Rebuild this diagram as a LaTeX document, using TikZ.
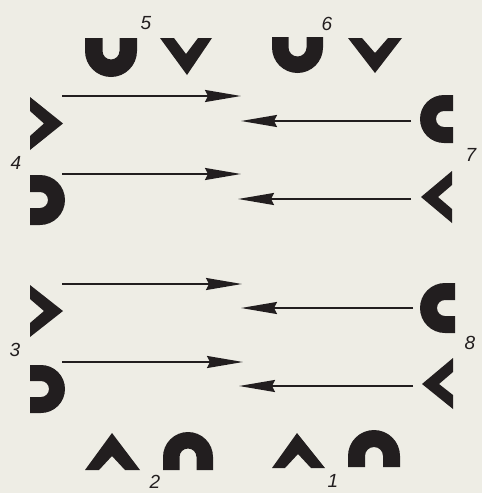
\documentclass[tikz,border=0pt]{standalone}
\usepackage{fontspec}
\setmainfont{Liberation Sans}
\usetikzlibrary{arrows.meta}
\definecolor{paper}{RGB}{238,237,229}
\definecolor{ink}{RGB}{34,30,31}
\tikzset{
  pics/halfring/.style args={#1/#2/#3}{code={
    \fill[ink] (-#1,-#3) -- (-#1,0) arc[start angle=180,end angle=0,radius=#1]
      -- (#1,-#3) -- (#2,-#3) -- (#2,0) arc[start angle=0,end angle=180,radius=#2]
      -- (-#2,-#3) -- cycle;}},
  chev/.style={fill=ink},
  arr/.style={draw=ink,line width=1.9pt,-{Stealth[length=36pt,width=12pt,inset=3pt]}},
  lab/.style={text=ink,font=\itshape\fontsize{19}{19}\selectfont,inner sep=0pt}
}
\begin{document}
\begin{tikzpicture}[x=1pt,y=1pt,yscale=-1]
\fill[paper] (0,0) rectangle (482,493);
\useasboundingbox (0,0) rectangle (482,493);
% top row
\pic[rotate=180] at (111,51) {halfring=26/8.5/13};
\fill[chev] (160,38) -- (174,38) -- (186,54) -- (198,38) -- (212,38) -- (187,75) -- cycle;
\pic[rotate=180] at (297.5,47.5) {halfring=25.5/9/10.5};
\fill[chev] (348,38) -- (362,38) -- (375,53) -- (388,38) -- (402,38) -- (375,73) -- cycle;
% left column
\fill[chev] (30,97) -- (63,123.5) -- (30,150) -- (30,136) -- (44,123.5) -- (30,111) -- cycle;
\pic[rotate=-90] at (40,200) {halfring=25/8/10};
\fill[chev] (30,285) -- (63,311) -- (30,337) -- (30,323) -- (44,311) -- (30,299) -- cycle;
\pic[rotate=-90] at (41,389) {halfring=24/8/11};
% right column
\pic[rotate=90] at (444,119) {halfring=24/8/9};
\fill[chev] (452,171) -- (421,197) -- (452,223) -- (452,209) -- (438,197) -- (452,185) -- cycle;
\pic[rotate=90] at (445,308) {halfring=25/8/10};
\fill[chev] (453,358) -- (422,384) -- (453,409) -- (453,395) -- (439,384) -- (453,372) -- cycle;
% bottom row
\fill[chev] (85,470) -- (112,433) -- (140,470) -- (125,470) -- (112,456) -- (99,470) -- cycle;
\pic at (188,457) {halfring=25/8.5/13};
\fill[chev] (272,468) -- (297,433) -- (325,468) -- (311,468) -- (298,454) -- (285,468) -- cycle;
\pic at (374,456) {halfring=26/9/11};
% arrow ends
\coordinate (a1s) at (62,96);   \coordinate (a1e) at (241,96);
\coordinate (a2s) at (411,121); \coordinate (a2e) at (241,121);
\coordinate (a3s) at (62,174);  \coordinate (a3e) at (241,174);
\coordinate (a4s) at (411,199); \coordinate (a4e) at (238,199);
\coordinate (a5s) at (62,284);  \coordinate (a5e) at (242,284);
\coordinate (a6s) at (413,308); \coordinate (a6e) at (241,308);
\coordinate (a7s) at (62,362);  \coordinate (a7e) at (243,362);
\coordinate (a8s) at (413,386); \coordinate (a8e) at (239,386);
\draw[arr] (a1s) -- (a1e);
\draw[arr] (a2s) -- (a2e);
\draw[arr] (a3s) -- (a3e);
\draw[arr] (a4s) -- (a4e);
\draw[arr] (a5s) -- (a5e);
\draw[arr] (a6s) -- (a6e);
\draw[arr] (a7s) -- (a7e);
\draw[arr] (a8s) -- (a8e);
% labels
\node[lab] (l5) at (146,23) {5};
\node[lab] (l6) at (327,24) {6};
\node[lab] (l4) at (16,163) {4};
\node[lab] (l3) at (15,350) {3};
\node[lab] (l7) at (471,155) {7};
\node[lab] (l8) at (470,343) {8};
\node[lab] (l2) at (155,482) {2};
\node[lab] (l1) at (333,481) {1};
\end{tikzpicture}
\end{document}
